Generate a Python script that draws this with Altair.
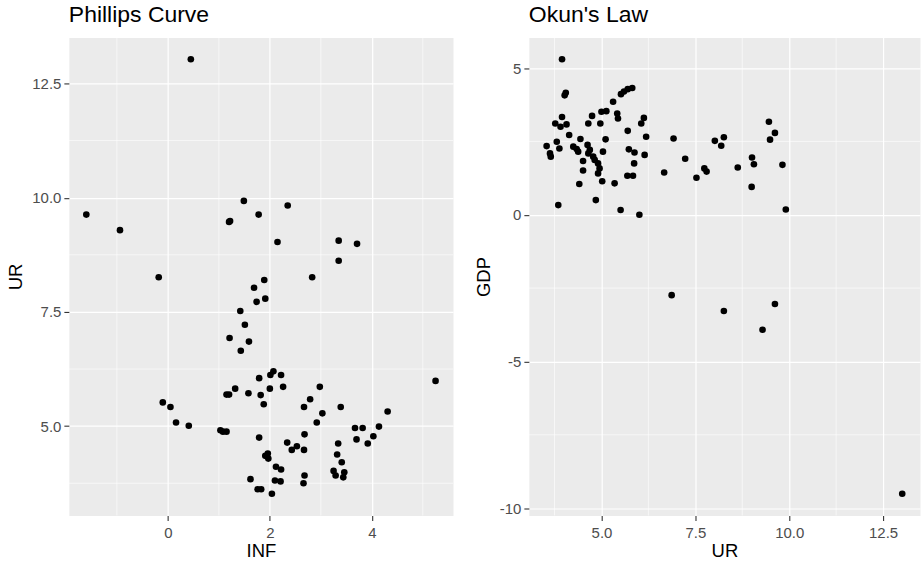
import altair as alt
import pandas as pd

# ---- Phillips Curve data (INF vs UR) ----
phillips_inf = [0.45, -1.60, -0.94, 1.49, 1.22, 1.20, 1.78, 2.35, 2.15, 3.35, 3.71, 3.35,
                -0.18, 1.89, 2.83, 1.69, 1.74, 1.91, 1.42, 1.51, 1.21, 1.59, 1.43, 2.07,
                2.01, 2.22, 1.79, 1.32, 1.20, 1.15, 2.00, 2.26, 2.98, 1.58, 1.82, 1.88,
                5.25, -0.10, 0.05, 0.16, 0.41, 1.03, 1.08, 1.15, 2.67, 2.79, 3.39, 3.03,
                4.31, 2.92, 3.67, 3.82, 4.14, 2.68, 3.70, 4.03, 3.92, 1.79, 2.34, 2.43,
                2.53, 2.67, 3.34, 3.32, 3.41, 3.25, 3.29, 3.46, 3.44, 1.96, 1.91, 1.97,
                2.12, 2.22, 2.10, 2.21, 2.68, 2.66, 1.62, 1.76, 1.83, 2.04]
phillips_ur = [13.03, 9.63, 9.29, 9.93, 9.49, 9.47, 9.63, 9.83, 9.03, 9.06, 8.99, 8.62,
               8.26, 8.20, 8.26, 8.03, 7.72, 7.79, 7.52, 7.22, 6.93, 6.85, 6.65, 6.20,
               6.12, 6.12, 6.05, 5.82, 5.69, 5.69, 5.82, 5.86, 5.86, 5.72, 5.68, 5.48,
               5.99, 5.52, 5.42, 5.08, 5.01, 4.91, 4.88, 4.88, 5.42, 5.59, 5.42, 5.28,
               5.32, 5.08, 4.96, 4.96, 4.99, 4.82, 4.71, 4.78, 4.62, 4.75, 4.64, 4.48,
               4.56, 4.48, 4.62, 4.38, 4.21, 4.02, 3.92, 3.99, 3.88, 4.40, 4.35, 4.29,
               4.11, 4.05, 3.81, 3.79, 3.92, 3.75, 3.84, 3.62, 3.62, 3.52]

# ---- Okun's Law data (UR vs GDP) ----
okun_ur = [3.95, 4.05, 4.02, 5.52, 5.60, 5.70, 5.82, 5.31, 4.75, 4.65, 4.97, 5.00,
           5.13, 5.42, 5.44, 6.13, 6.06, 5.70, 6.19, 3.95, 3.77, 3.91, 4.07, 4.14,
           4.44, 5.11, 3.81, 3.54, 3.88, 3.63, 3.65, 4.25, 4.34, 4.38, 4.63, 4.69,
           4.65, 5.04, 5.73, 5.88, 6.15, 4.51, 4.78, 4.82, 4.91, 5.87, 4.95, 4.91,
           4.51, 6.67, 6.92, 8.02, 8.19, 8.26, 9.46, 9.62, 9.49, 7.23, 7.74, 7.80,
           7.53, 8.63, 9.01, 9.06, 9.00, 9.82, 9.91, 3.85, 4.85, 5.51, 6.01, 5.35,
           4.41, 5.02, 5.69, 5.84, 6.87, 8.26, 9.62, 9.29, 13.01]
okun_gdp = [5.30, 4.16, 4.07, 4.11, 4.20, 4.28, 4.32, 3.85, 3.37, 3.11, 3.11, 3.51,
            3.53, 3.45, 3.28, 3.30, 3.11, 2.86, 2.66, 3.33, 3.11, 3.00, 3.08, 2.72,
            2.58, 2.57, 2.49, 2.34, 2.26, 2.09, 1.98, 2.32, 2.24, 2.15, 2.38, 2.21,
            2.09, 2.15, 2.23, 2.12, 2.04, 1.83, 1.98, 1.87, 1.75, 1.75, 1.58, 1.41,
            1.51, 1.44, 2.60, 2.52, 2.35, 2.64, 3.17, 2.79, 2.56, 1.91, 1.58, 1.47,
            1.26, 1.61, 1.95, 1.72, 0.95, 1.70, 0.18, 0.33, 0.50, 0.16, 0.00, 1.07,
            1.05, 1.14, 1.33, 1.33, -2.74, -3.28, -3.04, -3.92, -9.51]

# ---- axis ticks / minor grid ----
left_x_ticks = [0, 2, 4]
left_x_minor = [-1, 1, 3, 5]
left_y_ticks = [5.0, 7.5, 10.0, 12.5]
left_y_minor = [3.75, 6.25, 8.75, 11.25]
right_x_ticks = [5.0, 7.5, 10.0, 12.5]
right_x_minor = [3.75, 6.25, 8.75, 11.25]
right_y_ticks = [-10, -5, 0, 5]
right_y_minor = [-7.5, -2.5, 2.5]

FONT = "Liberation Sans"


def expand(vals):
    lo, hi = min(vals), max(vals)
    pad = 0.05 * (hi - lo)
    return [lo - pad, hi + pad]


def panel(xvals, yvals, xname, yname, xticks, yticks, xminor, yminor,
          xlabel, ylabel, title, w, h):
    df = pd.DataFrame({xname: xvals, yname: yvals})
    xs = alt.Scale(domain=expand(xvals), nice=False, zero=False)
    ys = alt.Scale(domain=expand(yvals), nice=False, zero=False)
    xax = alt.Axis(values=xticks, labelExpr=xlabel, title=xname)
    yax = alt.Axis(values=yticks, labelExpr=ylabel, title=yname)
    vminor = alt.Chart(pd.DataFrame({"v": xminor})).mark_rule(
        color="white", strokeWidth=0.6
    ).encode(x=alt.X("v:Q", scale=xs, axis=xax))
    hminor = alt.Chart(pd.DataFrame({"v": yminor})).mark_rule(
        color="white", strokeWidth=0.6
    ).encode(y=alt.Y("v:Q", scale=ys, axis=yax))
    pts = alt.Chart(df).mark_circle(size=44, color="black", opacity=1).encode(
        x=alt.X(f"{xname}:Q", scale=xs, axis=xax),
        y=alt.Y(f"{yname}:Q", scale=ys, axis=yax),
    )
    return alt.layer(vminor, hminor, pts).properties(
        width=w, height=h,
        title=alt.TitleParams(title, anchor="start", frame="group"),
    )


left = panel(phillips_inf, phillips_ur, "INF", "UR",
             left_x_ticks, left_y_ticks, left_x_minor, left_y_minor,
             "toString(datum.value)", "format(datum.value, '.1f')",
             "Phillips Curve", 385, 479)
right = panel(okun_ur, okun_gdp, "UR", "GDP",
              right_x_ticks, right_y_ticks, right_x_minor, right_y_minor,
              "format(datum.value, '.1f')", "toString(datum.value)",
              "Okun's Law", 392, 479)

chart = alt.hconcat(left, right, spacing=19).properties(
    padding={"left": 6, "top": 3, "right": 0, "bottom": 0},
    background="white",
).configure_view(
    fill="#EBEBEB", stroke="transparent"
).configure_axis(
    grid=True, gridColor="white", gridWidth=1.2, domain=False,
    tickColor="#333333", tickSize=5, tickWidth=1.1,
    labelColor="#4D4D4D", labelFont=FONT, labelFontSize=15, labelPadding=3,
    titleFont=FONT, titleFontSize=18.5, titleFontWeight="normal",
    titleColor="black", titlePadding=6,
).configure_axisX(
    labelPadding=5, titlePadding=1,
).configure_title(
    font=FONT, fontSize=23, fontWeight="normal", color="black", offset=10,
)

chart.save("out.html", embed_options={"renderer": "svg", "actions": False})
